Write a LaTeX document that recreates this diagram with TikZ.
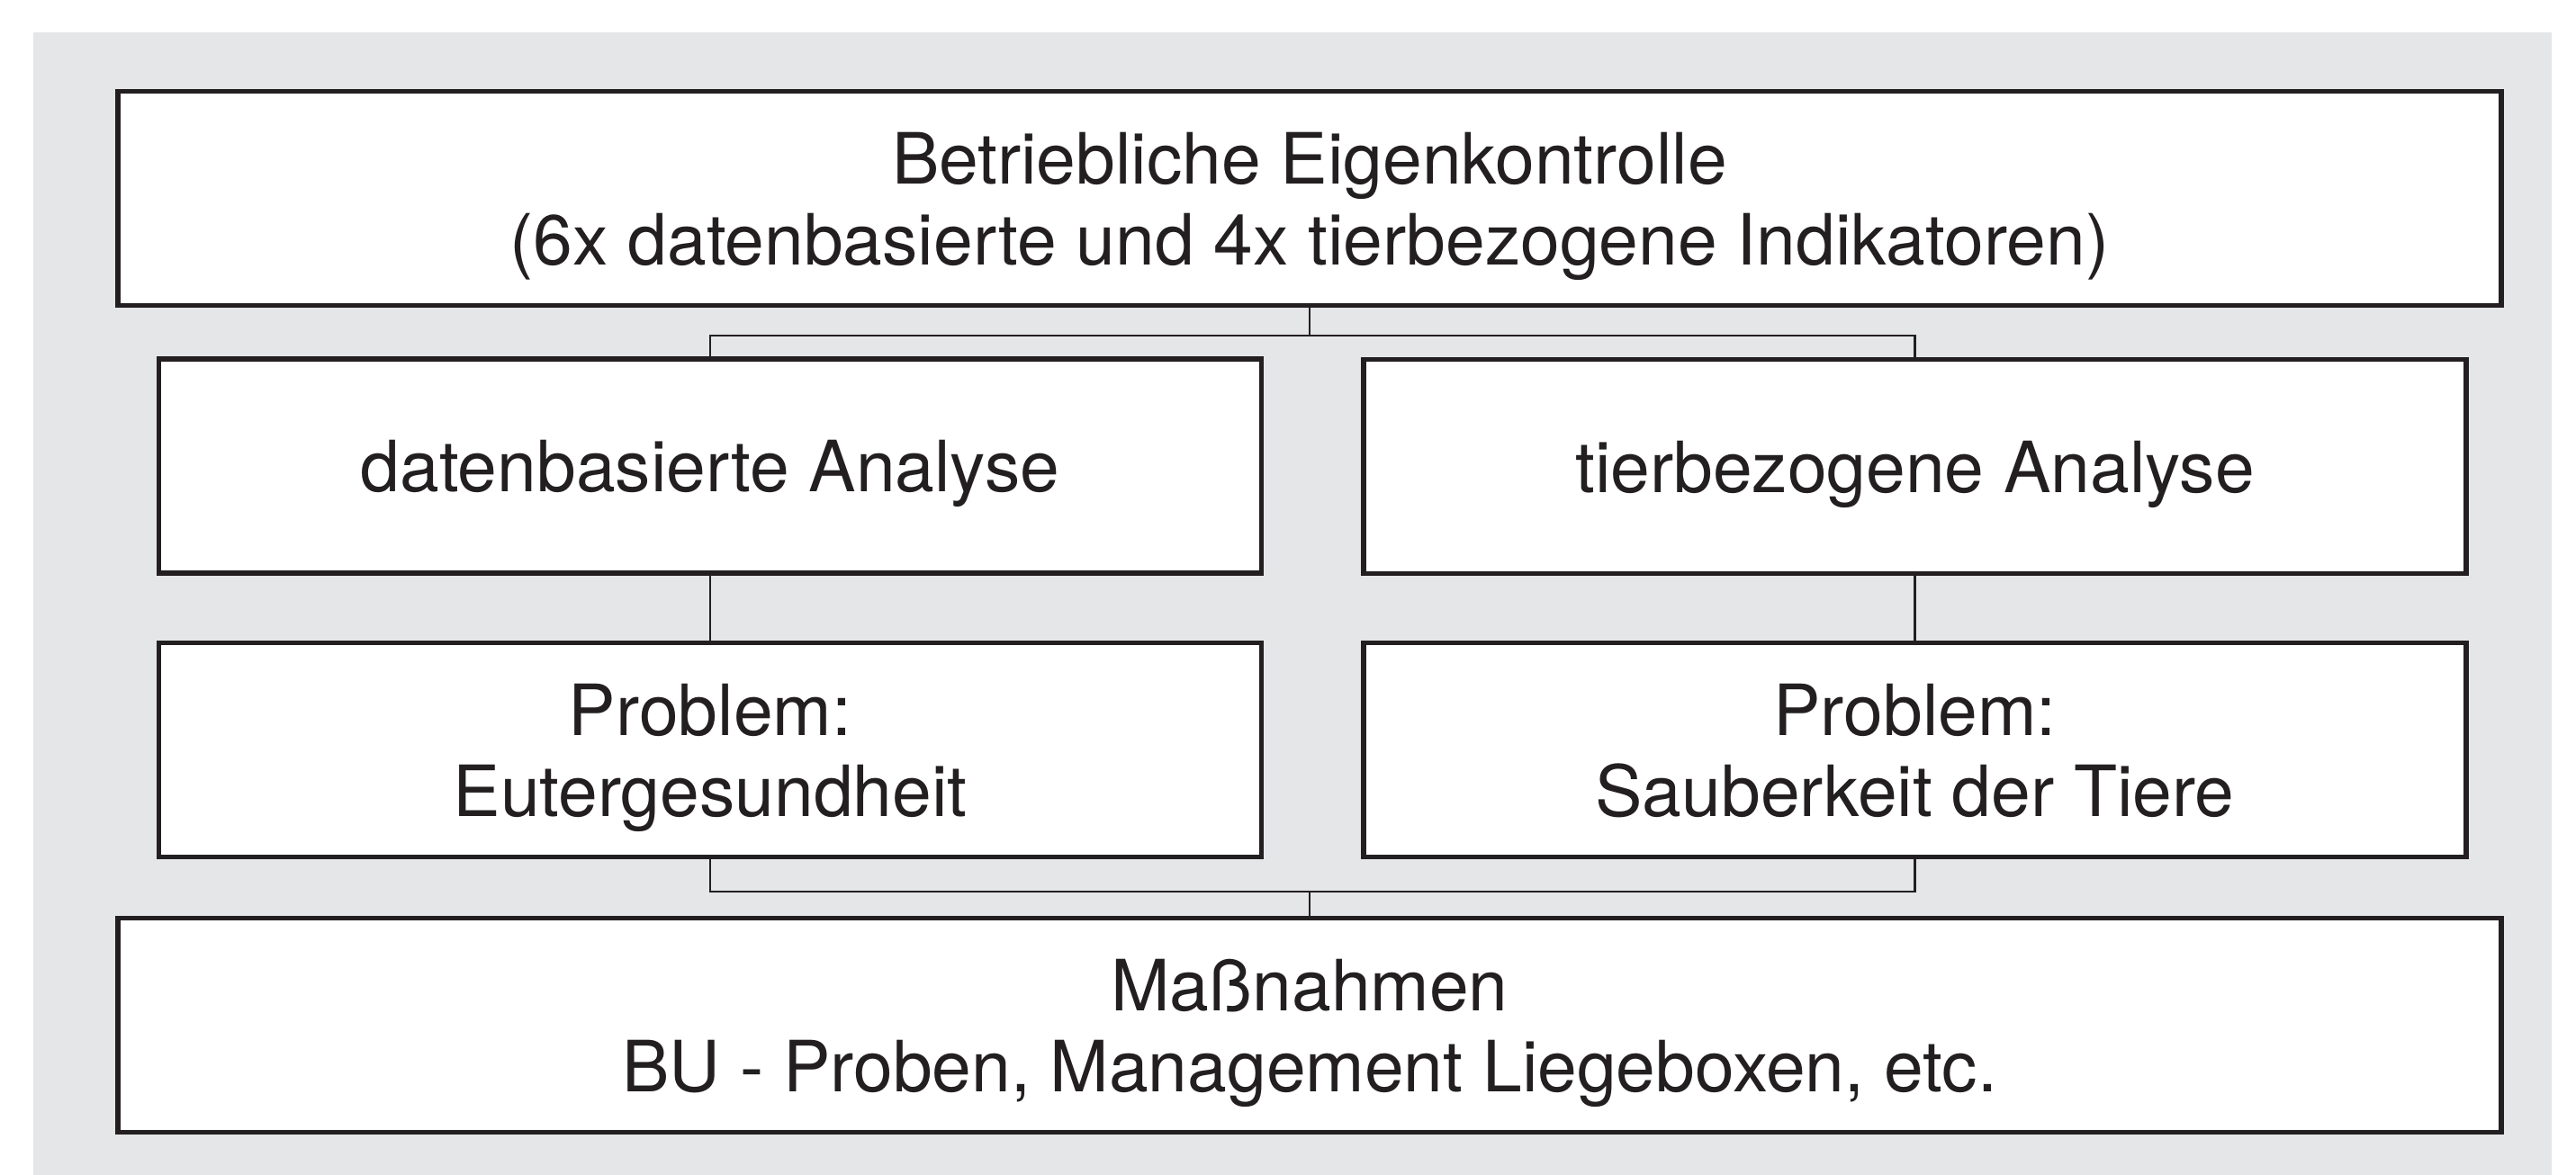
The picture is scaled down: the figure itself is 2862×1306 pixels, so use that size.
\documentclass[tikz,border=0pt]{standalone}
\usepackage{fontspec}
\setmainfont{TeX Gyre Heros}
\definecolor{bggray}{HTML}{E5E6E8}
\definecolor{ink}{HTML}{231F20}
\tikzset{
  boxnode/.style={draw=ink, fill=white, line width=1.4pt, inner sep=0pt,
    minimum height=59.5pt, align=center, text depth=0pt,
    font=\fontsize{19.65}{22.5}\selectfont, text=ink},
  wide/.style={boxnode, minimum width=662.1pt},
  narrow/.style={boxnode, minimum width=306.2pt},
  conn/.style={draw=ink, line width=0.65pt}
}
\begin{document}
\begin{tikzpicture}[x=0.25pt, y=-0.25pt]
  \useasboundingbox (0,0) rectangle (2862,1306);
  \fill[bggray] (37,36) rectangle (2835,1306);
  \node[wide] (top) at (1455,220.5) {Betriebliche Eigenkontrolle\\(6x datenbasierte und 4x tierbezogene Indikatoren)};
  \node[narrow] (d1) at (789,518) {datenbasierte Analyse};
  \node[narrow] (t1) at (2127.5,518.5) {tierbezogene Analyse};
  \node[narrow] (d2) at (789,833.5) {Problem:\\Eutergesundheit};
  \node[narrow] (t2) at (2127.5,833.5) {Problem:\\Sauberkeit der Tiere};
  \node[wide] (bot) at (1455,1139.5) {Maßnahmen\\BU - Proben, Management Liegeboxen, etc.};
  \coordinate (j1) at (1455,373);
  \coordinate (j2) at (1455,991);
  \draw[conn] (top.south) -- (j1);
  \draw[conn] (d1.north) |- (j1) -| (t1.north);
  \draw[conn] (d1.south) -- (d2.north);
  \draw[conn] (t1.south) -- (t2.north);
  \draw[conn] (d2.south) |- (j2) -| (t2.south);
  \draw[conn] (j2) -- (bot.north);
\end{tikzpicture}
\end{document}
